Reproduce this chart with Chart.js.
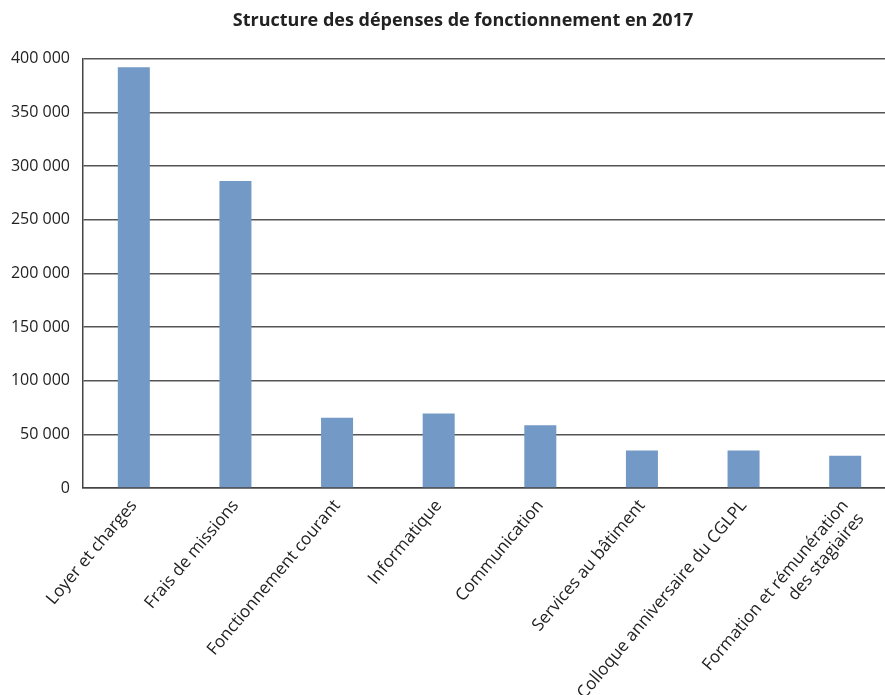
<!DOCTYPE html>
<html>
<head>
<meta charset="utf-8">
<script src="https://cdn.jsdelivr.net/npm/chart.js@4/dist/chart.umd.min.js"></script>
<style>
  html, body { margin: 0; padding: 0; background: #fff; overflow: hidden; }
  #wrap { width: 885px; height: 695px; overflow: hidden; }
</style>
</head>
<body>
<div id="wrap"><canvas id="depenses" width="926" height="695"></canvas></div>
<script>
// categories and values
let categories = [
    "Loyer et charges",
    "Frais de missions",
    "Fonctionnement courant",
    "Informatique",
    "Communication",
    "Services au bâtiment",
    "Colloque anniversaire du CGLPL",
    ["Formation et rémunération", "des stagiaires"]
];
let montants = [392000, 286000, 65500, 69500, 58500, 35000, 35000, 30000];
let yTicks = [0, 50000, 100000, 150000, 200000, 250000, 300000, 350000, 400000];

let fontFamily = "'Open Sans', sans-serif";

let formatNombre = function(v) {
    return String(v).replace(/\B(?=(\d{3})+(?!\d))/g, " ");
};

let ctx = document.getElementById("depenses").getContext("2d");

let chart = new Chart(ctx, {
    type: 'bar',
    data: {
        labels: categories,
        datasets: [{
            label: "Dépenses",
            data: montants,
            backgroundColor: '#7399c6',
            borderWidth: 0,
            barPercentage: 0.315,
            categoryPercentage: 1
        }]
    },
    options: {
        responsive: false,
        animation: false,
        plugins: {
            legend: { display: false },
            tooltip: { enabled: false },
            title: {
                display: true,
                text: "Structure des dépenses de fonctionnement en 2017",
                color: '#222',
                font: { family: fontFamily, size: 18, weight: 'bold' },
                padding: { top: 10, bottom: 27 }
            }
        },
        scales: {
            x: {
                grid: { display: false, drawTicks: false },
                border: { display: true, color: '#444', width: 1.5 },
                ticks: {
                    color: '#222',
                    font: { family: fontFamily, size: 17 },
                    minRotation: 50,
                    maxRotation: 50,
                    padding: 8,
                    autoSkip: false
                },
                afterFit: function(scale) { scale.height = 207; }
            },
            y: {
                min: 0,
                max: 400000,
                afterBuildTicks: function(scale) {
                    scale.ticks = yTicks.map(function(v) { return { value: v }; });
                },
                grid: { color: '#555', lineWidth: 1.5, drawTicks: false },
                border: { display: true, color: '#444', width: 1.5 },
                ticks: {
                    color: '#222',
                    font: { family: fontFamily, size: 16 },
                    padding: 13,
                    callback: function(v) { return formatNombre(v); }
                },
                afterFit: function(scale) { scale.width = 83; }
            },
            // empty right axis: only reserves room so the plot runs past the edge
            yDroite: {
                position: 'right',
                min: 0,
                max: 400000,
                grid: { display: false, drawTicks: false },
                border: { display: false },
                ticks: { display: false },
                afterFit: function(scale) { scale.width = 30; }
            }
        }
    }
});
</script>
</body>
</html>
